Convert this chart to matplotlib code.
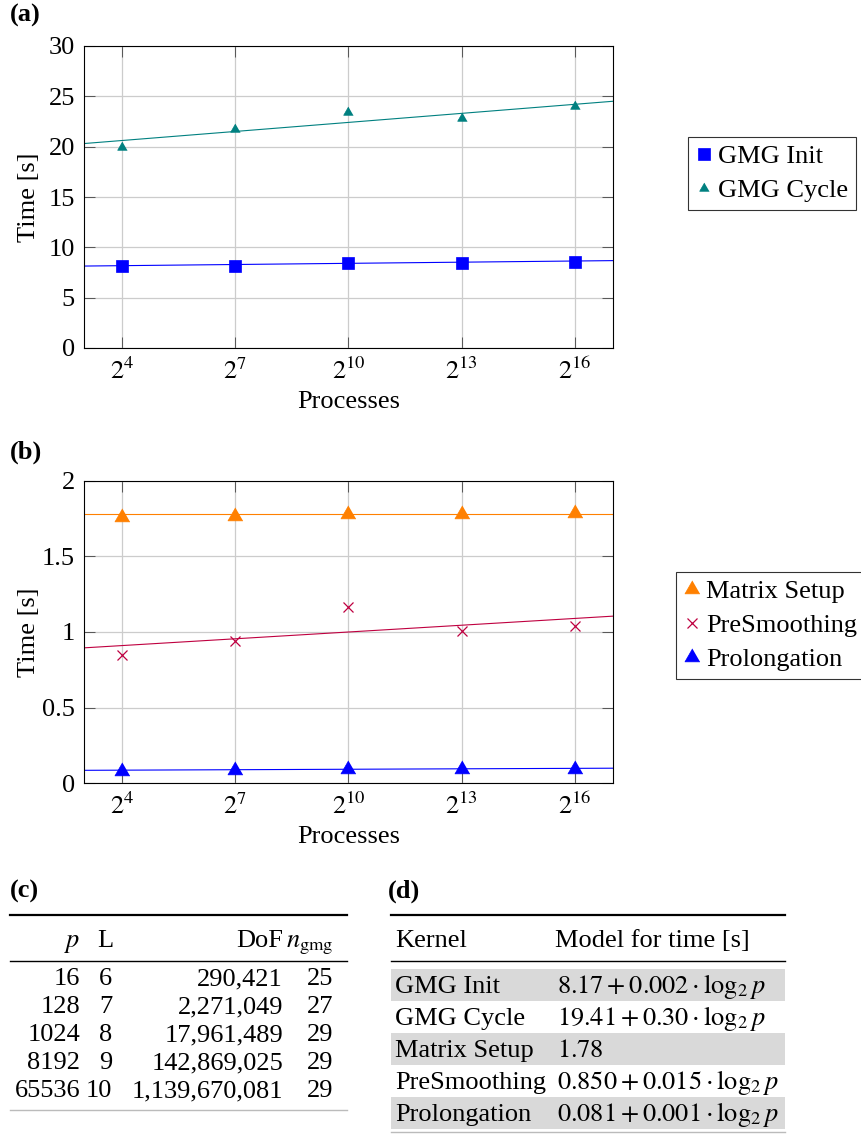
import numpy as np
import matplotlib.pyplot as plt
from matplotlib.lines import Line2D
from matplotlib.patches import Rectangle

plt.rcParams['font.family'] = ['Liberation Serif', 'DejaVu Serif']
plt.rcParams['mathtext.fontset'] = 'stix'
plt.rcParams['font.size'] = 19

W, H = 861, 1134

# measured data
processes = [16, 128, 1024, 8192, 65536]
xticklabels = [r'$2^{4}$', r'$2^{7}$', r'$2^{10}$', r'$2^{13}$', r'$2^{16}$']

gmg_init = [8.15, 8.18, 8.44, 8.44, 8.58]
gmg_cycle = [20.0, 21.75, 23.4, 22.85, 24.0]
matrix_setup = [1.76, 1.77, 1.78, 1.78, 1.79]
presmoothing = [0.846, 0.942, 1.168, 1.009, 1.04]
prolongation = [0.08, 0.085, 0.09, 0.09, 0.09]

# fitted model lines (end points at 2^3 and 2^17)
fit_x = [8, 131072]
fit_init = [8.14, 8.68]
fit_cycle = [20.31, 24.51]
fit_setup = [1.78, 1.78]
fit_presmooth = [0.895, 1.105]
fit_prolong = [0.084, 0.098]

# table (c)
tab_L = ['6', '7', '8', '9', '10']
tab_dof = ['290,421', '2,271,049', '17,961,489', '142,869,025', '1,139,670,081']
tab_ngmg = ['25', '27', '29', '29', '29']

# table (d)
kernels = ['GMG Init', 'GMG Cycle', 'Matrix Setup', 'PreSmoothing', 'Prolongation']
models = [r'$8.17+0.002\cdot\log_2 p$', r'$19.41+0.30\cdot\log_2 p$', r'$1.78$',
          r'$0.850+0.015\cdot\log_2 p$', r'$0.081+0.001\cdot\log_2 p$']

BLUE = '#0000ff'
TEAL = '#008080'
ORANGE = '#ff8000'
PURPLE = '#bf0040'
TRI = [(0, 1), (-0.866, -0.5), (0.866, -0.5)]


def fx(x):
    return x / W


def fy(y):
    return 1 - y / H


def style_axes(ax, yticks, ylabels, ylim):
    ax.set_xscale('log', base=2)
    ax.set_xlim(8, 131072)
    ax.set_xticks(processes)
    ax.set_xticklabels(xticklabels)
    ax.minorticks_off()
    ax.set_ylim(*ylim)
    ax.set_yticks(yticks)
    ax.set_yticklabels(ylabels)
    ax.grid(True, color='#cccccc', lw=0.9)
    ax.set_axisbelow(True)
    ax.tick_params(direction='in', length=8, width=0.75, color='0.35',
                   top=True, right=True, labelsize=19)
    ax.tick_params(axis='y', pad=6.5)
    ax.tick_params(axis='x', pad=7)
    for s in ax.spines.values():
        s.set_linewidth(0.8)
    ax.set_xlabel('Processes', fontsize=19)
    ax.set_ylabel('Time [s]', fontsize=19)
    ax.xaxis.set_label_coords(0.5, -0.142)
    ax.yaxis.set_label_coords(-0.083, 0.5)


fig = plt.figure(figsize=(W / 100, H / 100), dpi=100)

# (a)
ax1 = fig.add_axes([fx(84), fy(348), 529 / W, 302 / H])
ax1.plot(fit_x, fit_init, color=BLUE, lw=0.8)
ax1.plot(fit_x, fit_cycle, color=TEAL, lw=0.8)
h1 = ax1.plot(processes, gmg_init, ls='none', marker='s', ms=8, mew=0.5,
              color=BLUE, label='GMG Init')[0]
h2 = ax1.plot(processes, gmg_cycle, ls='none', marker=TRI, ms=8, mew=0.5,
              color=TEAL, label='GMG Cycle')[0]
style_axes(ax1, [0, 5, 10, 15, 20, 25, 30], ['0', '5', '10', '15', '20', '25', '30'], (0, 30))

# (b)
ax2 = fig.add_axes([fx(84), fy(783), 529 / W, 302 / H])
ax2.plot(fit_x, fit_setup, color=ORANGE, lw=0.8)
ax2.plot(fit_x, fit_presmooth, color=PURPLE, lw=0.8)
ax2.plot(fit_x, fit_prolong, color=BLUE, lw=0.8)
h3 = ax2.plot(processes, matrix_setup, ls='none', marker=TRI, ms=12.5, mew=0.5,
              color=ORANGE, label='Matrix Setup')[0]
h4 = ax2.plot(processes, presmoothing, ls='none', marker='x', ms=6.5, mew=0.9,
              color=PURPLE, label='PreSmoothing')[0]
h5 = ax2.plot(processes, prolongation, ls='none', marker=TRI, ms=12.5, mew=0.5,
              color=BLUE, label='Prolongation')[0]
style_axes(ax2, [0, 0.5, 1, 1.5, 2], ['0', '0.5', '1', '1.5', '2'], (0, 2))

leg_kw = dict(loc='upper left', frameon=True, fancybox=False, edgecolor='black',
              borderaxespad=0, handlelength=0.6, handletextpad=0.25, borderpad=0.3,
              labelspacing=0.4, numpoints=1, fontsize=19)
leg1 = fig.legend([h1, h2], ['GMG Init', 'GMG Cycle'],
                  bbox_to_anchor=(fx(688), fy(137)), **leg_kw)
leg2 = fig.legend([h3, h4, h5], ['Matrix Setup', 'PreSmoothing', 'Prolongation'],
                  bbox_to_anchor=(fx(676), fy(572)), **leg_kw)
for lg in (leg1, leg2):
    lg.get_frame().set_linewidth(0.8)

# panel labels
for lbl, x, y in [('(a)', 10, 15), ('(b)', 10, 452), ('(c)', 10, 891), ('(d)', 388, 891)]:
    fig.text(fx(x), fy(y), lbl, fontweight='bold', va='center', ha='left', fontsize=19)


def hrule(x0, x1, y, lw, color='black'):
    fig.add_artist(Line2D([fx(x0), fx(x1)], [fy(y), fy(y)], color=color, lw=lw,
                          transform=fig.transFigure))


# table (c)
hrule(10, 347, 915, 1.6)
hrule(10, 347, 961, 1.0)
head_c = 947
fig.text(fx(80), fy(head_c), r'$p$', ha='right', va='baseline')
fig.text(fx(113), fy(head_c), 'L', ha='right', va='baseline')
fig.text(fx(283), fy(head_c), 'DoF', ha='right', va='baseline')
fig.text(fx(333), fy(head_c), r'$n_{\mathrm{gmg}}$', ha='right', va='baseline')
for i in range(len(processes)):
    yb = 985 + 28 * i
    fig.text(fx(80), fy(yb), str(processes[i]), ha='right', va='baseline')
    fig.text(fx(112), fy(yb), tab_L[i], ha='right', va='baseline')
    fig.text(fx(283), fy(yb), tab_dof[i], ha='right', va='baseline')
    fig.text(fx(333), fy(yb), tab_ngmg[i], ha='right', va='baseline')
hrule(10, 347, 1110, 1.0, '#bbbbbb')

# table (d)
hrule(391, 785, 915, 1.6)
hrule(391, 785, 961, 1.0)
fig.text(fx(395), fy(947), 'Kernel', ha='left', va='baseline')
fig.text(fx(555), fy(947), 'Model for time [s]', ha='left', va='baseline')
for i in range(len(kernels)):
    top = 969 + 32 * i
    if i % 2 == 0:
        fig.add_artist(Rectangle((fx(391), fy(top + 32)), 394 / W, 32 / H,
                                 transform=fig.transFigure, facecolor='#d9d9d9',
                                 edgecolor='none', zorder=0))
    fig.text(fx(395), fy(top + 24), kernels[i], ha='left', va='baseline')
    fig.text(fx(557), fy(top + 24), models[i], ha='left', va='baseline')
hrule(391, 785, 1132, 1.0, '#bbbbbb')

fig.savefig('out.png', dpi=100)
